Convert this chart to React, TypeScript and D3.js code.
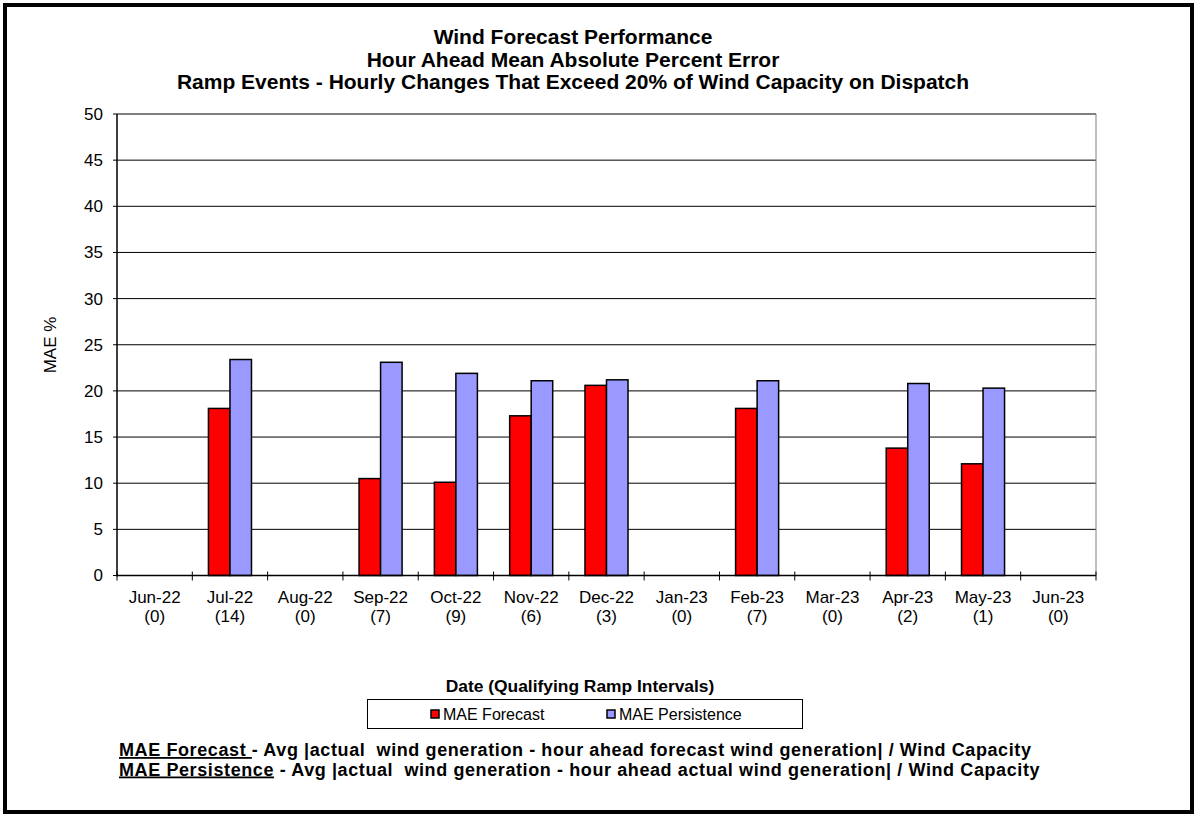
import React from 'react'
import * as d3 from 'd3'

const months = ['Jun-22', 'Jul-22', 'Aug-22', 'Sep-22', 'Oct-22', 'Nov-22', 'Dec-22', 'Jan-23', 'Feb-23', 'Mar-23', 'Apr-23', 'May-23', 'Jun-23']
const rampCounts = [0, 14, 0, 7, 9, 6, 3, 0, 7, 0, 2, 1, 0]
const maeForecast = [null, 18.1, null, 10.5, 10.1, 17.3, 20.6, null, 18.1, null, 13.8, 12.1, null]
const maePersistence = [null, 23.4, null, 23.1, 21.9, 21.1, 21.2, null, 21.1, null, 20.8, 20.3, null]
const yTicks = [0, 5, 10, 15, 20, 25, 30, 35, 40, 45, 50]
const titleLines = [
  'Wind Forecast Performance',
  'Hour Ahead Mean Absolute Percent Error',
  'Ramp Events - Hourly Changes That Exceed 20% of Wind Capacity on Dispatch',
]

const series = [
  { key: 'MAE Forecast', values: maeForecast, color: '#ff0000' },
  { key: 'MAE Persistence', values: maePersistence, color: '#9999ff' },
]

const W = 1198
const H = 815
const plot = { left: 117, right: 1096, top: 114, bottom: 575.5 }
const font = '"Liberation Sans", Arial, sans-serif'

export default function App() {
  const x = d3.scaleBand<string>().domain(months).range([plot.left, plot.right]).padding(0)
  const xSub = d3
    .scaleBand<string>()
    .domain(series.map((s) => s.key))
    .range([0, x.bandwidth()])
    .paddingInner(0)
    .paddingOuter(0.75)
  const y = d3.scaleLinear().domain([0, 50]).range([plot.bottom, plot.top])

  // tick marks sit on the category boundaries
  const boundaries = months.map((m) => x(m)!).concat([plot.right])

  return (
    <div style={{ position: 'absolute', left: 0, top: 0 }}>
      <svg width={W} height={H} style={{ display: 'block', fontFamily: font }}>
        <rect x={0} y={0} width={W} height={H} fill="#fff" />
        <rect x={5} y={5} width={1187} height={807} fill="none" stroke="#000" strokeWidth={4} />

        {titleLines.map((t, i) => (
          <text key={t} x={573} y={44 + i * 22.5} textAnchor="middle" fontSize={21} fontWeight="bold" fill="#000">
            {t}
          </text>
        ))}

        {/* grid */}
        {yTicks.map((v) => (
          <g key={v}>
            <line x1={plot.left} x2={plot.right} y1={y(v)} y2={y(v)} stroke="#000" strokeWidth={1} />
            <line x1={plot.left - 4} x2={plot.left} y1={y(v)} y2={y(v)} stroke="#000" strokeWidth={1} />
            <text x={103} y={y(v)} dy="0.35em" textAnchor="end" fontSize={17} fill="#000">
              {v}
            </text>
          </g>
        ))}
        <line x1={plot.right} x2={plot.right} y1={plot.top} y2={plot.bottom} stroke="#808080" strokeWidth={1} />
        <line x1={plot.left} x2={plot.left} y1={plot.top} y2={plot.bottom + 1} stroke="#000" strokeWidth={1.5} />

        {/* bars */}
        {series.map((s) =>
          s.values.map((v, i) =>
            v == null ? null : (
              <rect
                key={s.key + i}
                x={x(months[i])! + xSub(s.key)!}
                y={y(v)}
                width={xSub.bandwidth()}
                height={y(0) - y(v)}
                fill={s.color}
                stroke="#000"
                strokeWidth={1.5}
              />
            ),
          ),
        )}

        <line x1={plot.left} x2={plot.right} y1={plot.bottom} y2={plot.bottom} stroke="#000" strokeWidth={1.5} />
        {boundaries.map((bx, i) => (
          <line key={i} x1={bx} x2={bx} y1={plot.bottom - 4} y2={plot.bottom + 5} stroke="#000" strokeWidth={1} />
        ))}

        {/* category labels */}
        {months.map((m, i) => (
          <text key={m} x={x(m)! + x.bandwidth() / 2} textAnchor="middle" fontSize={17} fill="#000">
            <tspan x={x(m)! + x.bandwidth() / 2} y={603}>
              {m}
            </tspan>
            <tspan x={x(m)! + x.bandwidth() / 2} y={622}>
              ({rampCounts[i]})
            </tspan>
          </text>
        ))}

        <text transform="translate(56,345) rotate(-90)" textAnchor="middle" fontSize={17} fill="#000">
          MAE %
        </text>

        <text x={580} y={692} textAnchor="middle" fontSize={17.4} fontWeight="bold" fill="#000">
          Date (Qualifying Ramp Intervals)
        </text>

        {/* legend */}
        <rect x={367.5} y={699.5} width={435} height={29} fill="#fff" stroke="#000" strokeWidth={1} />
        {series.map((s, i) => {
          const lx = i === 0 ? 431 : 607
          return (
            <g key={s.key}>
              <rect x={lx} y={710} width={8} height={8} fill={s.color} stroke="#000" strokeWidth={1.5} />
              <text x={lx + 12} y={720} fontSize={16} fill="#000">
                {s.key}
              </text>
            </g>
          )
        })}

        {/* definitions */}
        <text x={119} y={756} fontSize={18} letterSpacing={0.6} fontWeight="bold" fill="#000" style={{ whiteSpace: 'pre' }}>
          <tspan textDecoration="underline">MAE Forecast </tspan>
          <tspan>- Avg |actual  wind generation - hour ahead forecast wind generation| / Wind Capacity</tspan>
        </text>
        <text x={119} y={775.5} fontSize={18} letterSpacing={0.6} fontWeight="bold" fill="#000" style={{ whiteSpace: 'pre' }}>
          <tspan textDecoration="underline">MAE Persistence</tspan>
          <tspan> - Avg |actual  wind generation - hour ahead actual wind generation| / Wind Capacity</tspan>
        </text>
      </svg>
    </div>
  )
}
